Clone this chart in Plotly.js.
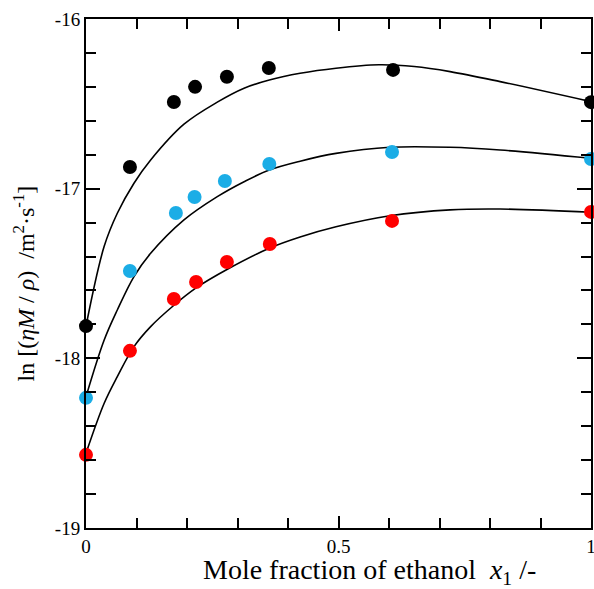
<!DOCTYPE html>
<html>
<head>
<meta charset="utf-8">
<script src="https://cdn.plot.ly/plotly-3.0.1.min.js"></script>
<style>html,body{margin:0;padding:0;background:#fff;}#chart{width:594px;height:589px;}</style>
</head>
<body>
<div id="chart"></div>
<script>
// Experimental points
const xBlack = [0, 0.087, 0.174, 0.216, 0.279, 0.362, 0.608, 1.0];
const yBlack = [-17.81, -16.872, -16.489, -16.40, -16.34, -16.289, -16.30, -16.49];
const xBlue = [0, 0.087, 0.178, 0.215, 0.275, 0.363, 0.606, 1.0];
const yBlue = [-18.233, -17.485, -17.143, -17.049, -16.955, -16.854, -16.784, -16.825];
const xRed = [0, 0.087, 0.174, 0.218, 0.279, 0.364, 0.606, 1.0];
const yRed = [-18.569, -17.956, -17.650, -17.550, -17.432, -17.326, -17.19, -17.137];

// Fitted curves
const xFitBlack = [0, 0.036, 0.062, 0.095, 0.128, 0.194, 0.26, 0.313, 0.363, 0.424, 0.495, 0.58, 0.65, 0.721, 0.82, 1.0];
const yFitBlack = [-17.81, -17.34, -17.145, -16.968, -16.831, -16.62, -16.49, -16.408, -16.36, -16.32, -16.29, -16.27, -16.28, -16.31, -16.369, -16.487];
const xFitBlue = [0, 0.036, 0.062, 0.095, 0.128, 0.194, 0.26, 0.313, 0.363, 0.424, 0.495, 0.602, 0.721, 0.82, 1.0];
const yFitBlue = [-18.226, -17.892, -17.715, -17.518, -17.381, -17.184, -17.047, -16.959, -16.89, -16.838, -16.792, -16.756, -16.756, -16.772, -16.821];
const xFitRed = [0, 0.036, 0.062, 0.095, 0.128, 0.173, 0.218, 0.28, 0.364, 0.424, 0.495, 0.602, 0.721, 0.82, 1.0];
const yFitRed = [-18.56, -18.265, -18.108, -17.931, -17.813, -17.69, -17.585, -17.475, -17.35, -17.285, -17.225, -17.16, -17.125, -17.12, -17.139];

// Axis tick labels and titles
const xTickVals = [0, 0.5, 1];
const xTickText = ['0', '0.5', '1'];
const yTickVals = [-19, -18, -17, -16];
const yTickText = ['-19', '-18', '-17', '-16'];
const xTitle = 'Mole fraction of ethanol  <i>x</i><sub>1</sub> /-';
const yTitle = 'ln [(<i>ηM</i> / <i>ρ</i>)  /m<sup>2</sup>·s<sup>-1</sup>]';

const ser = [
  {fx: xFitBlack, fy: yFitBlack, px: xBlack, py: yBlack, color: '#000000'},
  {fx: xFitBlue, fy: yFitBlue, px: xBlue, py: yBlue, color: '#1BADE6'},
  {fx: xFitRed, fy: yFitRed, px: xRed, py: yRed, color: '#FF0000'}
];

const traces = [];
ser.forEach(s => {
  traces.push({x: s.fx, y: s.fy, mode: 'lines', line: {color: '#000', width: 1.6, shape: 'spline', smoothing: 1}, hoverinfo: 'skip', showlegend: false});
});
ser.forEach(s => {
  traces.push({x: s.px, y: s.py, mode: 'markers', marker: {color: s.color, size: 14}, cliponaxis: false, showlegend: false});
});

const fontFam = 'Liberation Serif, Times New Roman, serif';
const layout = {
  width: 594, height: 589,
  margin: {l: 86, r: 3, t: 19, b: 61},
  paper_bgcolor: '#fff', plot_bgcolor: '#fff',
  font: {family: fontFam, color: '#000', size: 19},
  showlegend: false,
  xaxis: {
    range: [0, 1], showgrid: false, zeroline: false,
    showline: true, linecolor: '#000', linewidth: 2, mirror: 'allticks',
    ticks: 'inside', ticklen: 12, tickwidth: 2, tickcolor: '#000',
    tickvals: xTickVals, ticktext: xTickText, ticklabeloverflow: 'allow',
    tickfont: {family: fontFam, size: 19},
    minor: {dtick: 0.1, ticks: 'inside', ticklen: 10, tickwidth: 2, tickcolor: '#000', showgrid: false}
  },
  yaxis: {
    range: [-19, -16], showgrid: false, zeroline: false,
    showline: true, linecolor: '#000', linewidth: 2, mirror: 'allticks',
    ticks: 'inside', ticklen: 14, tickwidth: 2, tickcolor: '#000',
    tickvals: yTickVals, ticktext: yTickText,
    tickfont: {family: fontFam, size: 19},
    minor: {dtick: 0.2, ticks: 'inside', ticklen: 10, tickwidth: 2, tickcolor: '#000', showgrid: false}
  },
  annotations: [
    {text: xTitle, xref: 'paper', yref: 'paper', x: 0.562, y: 0, xanchor: 'center', yanchor: 'middle', yshift: -43, showarrow: false, font: {family: fontFam, size: 28, color: '#000'}},
    {text: yTitle, xref: 'paper', yref: 'paper', x: 0, y: 0.5, xanchor: 'center', yanchor: 'middle', xshift: -63, yshift: -10, textangle: -90, showarrow: false, font: {family: fontFam, size: 24, color: '#000'}}
  ]
};

Plotly.newPlot('chart', traces, layout, {displayModeBar: false, staticPlot: true});
</script>
</body>
</html>
